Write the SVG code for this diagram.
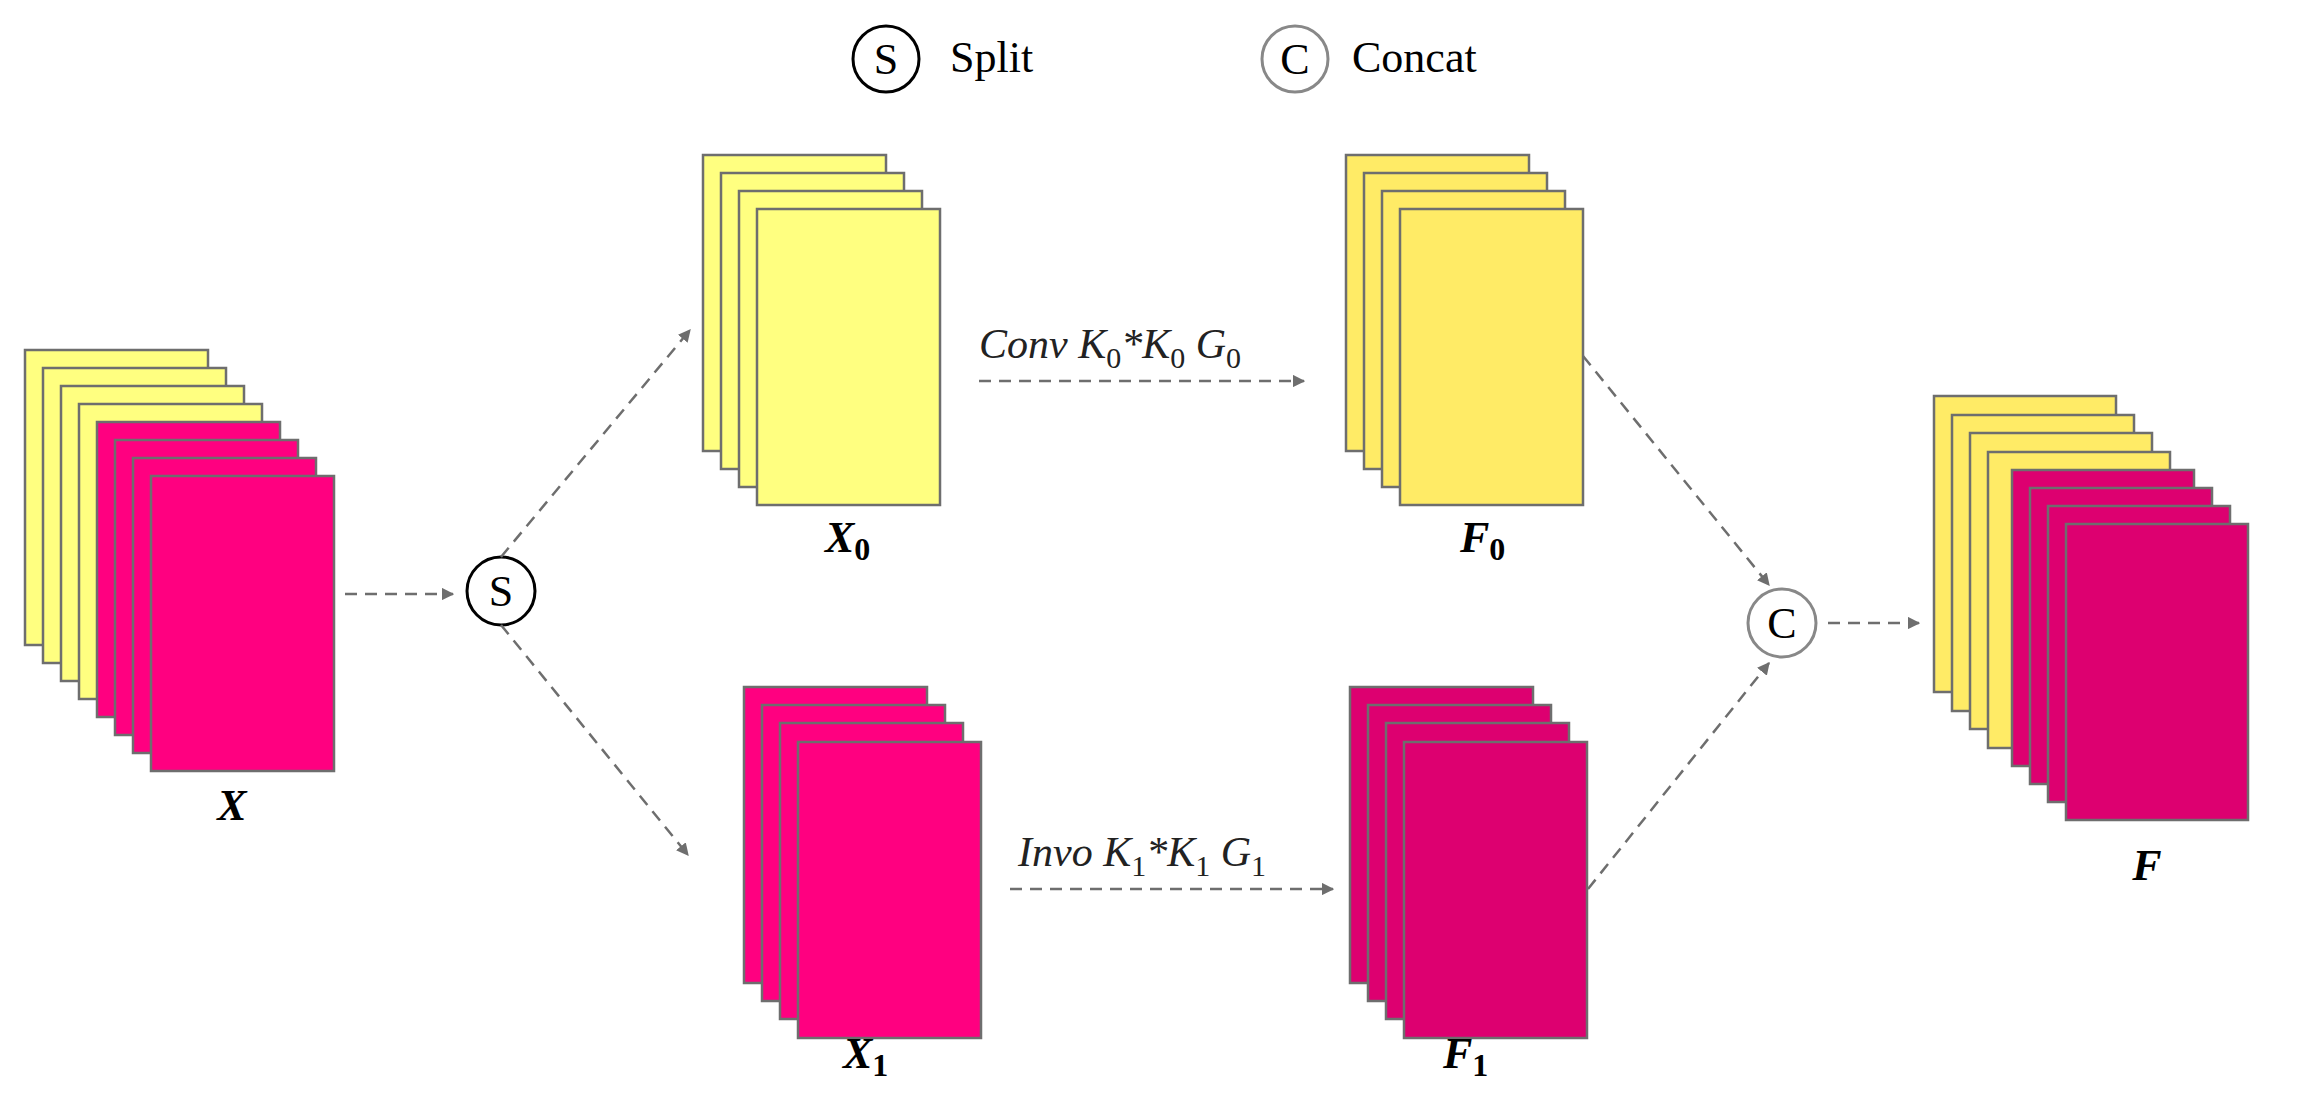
<svg xmlns="http://www.w3.org/2000/svg" width="2297" height="1110" viewBox="0 0 2297 1110">
<style>
.y{fill:#FFFF80;stroke:#6e6e6e;stroke-width:2.5}
.y2{fill:#FFEB66;stroke:#6e6e6e;stroke-width:2.5}
.p{fill:#FF0080;stroke:#6e6e6e;stroke-width:2.5}
.p2{fill:#DD0070;stroke:#6e6e6e;stroke-width:2.5}
.c{stroke:#6e6e6e;stroke-width:2.5;fill:none;stroke-dasharray:12 8;marker-end:url(#a)}
.lab{font-family:"Liberation Serif",serif;font-weight:bold;font-style:italic;font-size:44px;fill:#000}
.sub{font-style:normal;font-size:32px}
.op{font-family:"Liberation Serif",serif;font-size:42px;font-style:italic;fill:#222}
.ops{font-style:normal;font-size:30px}
.leg{font-family:"Liberation Serif",serif;font-size:44px;fill:#000}
</style>
<defs>
<marker id="a" viewBox="0 0 10 10" refX="9" refY="5" markerWidth="5" markerHeight="5" orient="auto" markerUnits="strokeWidth"><path d="M0,0L10,5L0,10z" fill="#6e6e6e"/></marker>
</defs>
<g id="legend">
<circle cx="886" cy="59" r="33" fill="#fff" stroke="#000" stroke-width="3"/>
<text x="886" y="74" text-anchor="middle" class="leg">S</text>
<text x="950" y="72" class="leg">Split</text>
<circle cx="1295" cy="59" r="33" fill="#fff" stroke="#888" stroke-width="3"/>
<text x="1295" y="74" text-anchor="middle" class="leg">C</text>
<text x="1352" y="72" class="leg">Concat</text>
</g>
<g id="X">
<rect class="y" x="25" y="350" width="183" height="295"/>
<rect class="y" x="43" y="368" width="183" height="295"/>
<rect class="y" x="61" y="386" width="183" height="295"/>
<rect class="y" x="79" y="404" width="183" height="295"/>
<rect class="p" x="97" y="422" width="183" height="295"/>
<rect class="p" x="115" y="440" width="183" height="295"/>
<rect class="p" x="133" y="458" width="183" height="295"/>
<rect class="p" x="151" y="476" width="183" height="295"/>
<text x="232" y="820" text-anchor="middle" class="lab">X</text>
</g>
<g id="S">
<circle cx="501" cy="591" r="34" fill="#fff" stroke="#000" stroke-width="3"/>
<text x="501" y="606" text-anchor="middle" class="leg">S</text>
</g>
<g id="X0">
<rect class="y" x="703" y="155" width="183" height="296"/>
<rect class="y" x="721" y="173" width="183" height="296"/>
<rect class="y" x="739" y="191" width="183" height="296"/>
<rect class="y" x="757" y="209" width="183" height="296"/>
<text x="825" y="552" class="lab">X<tspan class="sub" dy="8">0</tspan></text>
</g>
<g id="F0">
<rect class="y2" x="1346" y="155" width="183" height="296"/>
<rect class="y2" x="1364" y="173" width="183" height="296"/>
<rect class="y2" x="1382" y="191" width="183" height="296"/>
<rect class="y2" x="1400" y="209" width="183" height="296"/>
<text x="1460" y="552" class="lab">F<tspan class="sub" dy="8">0</tspan></text>
</g>
<g id="X1">
<rect class="p" x="744" y="687" width="183" height="296"/>
<rect class="p" x="762" y="705" width="183" height="296"/>
<rect class="p" x="780" y="723" width="183" height="296"/>
<rect class="p" x="798" y="742" width="183" height="296"/>
<text x="843" y="1068" class="lab">X<tspan class="sub" dy="8">1</tspan></text>
</g>
<g id="F1">
<rect class="p2" x="1350" y="687" width="183" height="296"/>
<rect class="p2" x="1368" y="705" width="183" height="296"/>
<rect class="p2" x="1386" y="723" width="183" height="296"/>
<rect class="p2" x="1404" y="742" width="183" height="296"/>
<text x="1443" y="1068" class="lab">F<tspan class="sub" dy="8">1</tspan></text>
</g>
<g id="C">
<circle cx="1782" cy="623" r="34" fill="#fff" stroke="#888" stroke-width="3"/>
<text x="1782" y="638" text-anchor="middle" class="leg">C</text>
</g>
<g id="F">
<rect class="y2" x="1934" y="396" width="182" height="296"/>
<rect class="y2" x="1952" y="415" width="182" height="296"/>
<rect class="y2" x="1970" y="433" width="182" height="296"/>
<rect class="y2" x="1988" y="452" width="182" height="296"/>
<rect class="p2" x="2012" y="470" width="182" height="296"/>
<rect class="p2" x="2030" y="488" width="182" height="296"/>
<rect class="p2" x="2048" y="506" width="182" height="296"/>
<rect class="p2" x="2066" y="524" width="182" height="296"/>
<text x="2147" y="880" text-anchor="middle" class="lab">F</text>
</g>
<g id="connectors">
<line class="c" x1="345" y1="594" x2="453" y2="594"/>
<line class="c" x1="501" y1="557" x2="690" y2="330"/>
<line class="c" x1="501" y1="625" x2="688" y2="855"/>
<line class="c" x1="979" y1="381" x2="1304" y2="381"/>
<line class="c" x1="1010" y1="889" x2="1333" y2="889"/>
<line class="c" x1="1583" y1="356" x2="1769" y2="585"/>
<line class="c" x1="1588" y1="889" x2="1769" y2="663"/>
<line class="c" x1="1828" y1="623" x2="1919" y2="623"/>
<text x="979" y="358" class="op">Conv K<tspan class="ops" dy="10">0</tspan><tspan dy="-10">*K</tspan><tspan class="ops" dy="10">0</tspan><tspan dy="-10">  G</tspan><tspan class="ops" dy="10">0</tspan></text>
<text x="1018" y="866" class="op">Invo K<tspan class="ops" dy="10">1</tspan><tspan dy="-10">*K</tspan><tspan class="ops" dy="10">1</tspan><tspan dy="-10">  G</tspan><tspan class="ops" dy="10">1</tspan></text>
</g>
</svg>
